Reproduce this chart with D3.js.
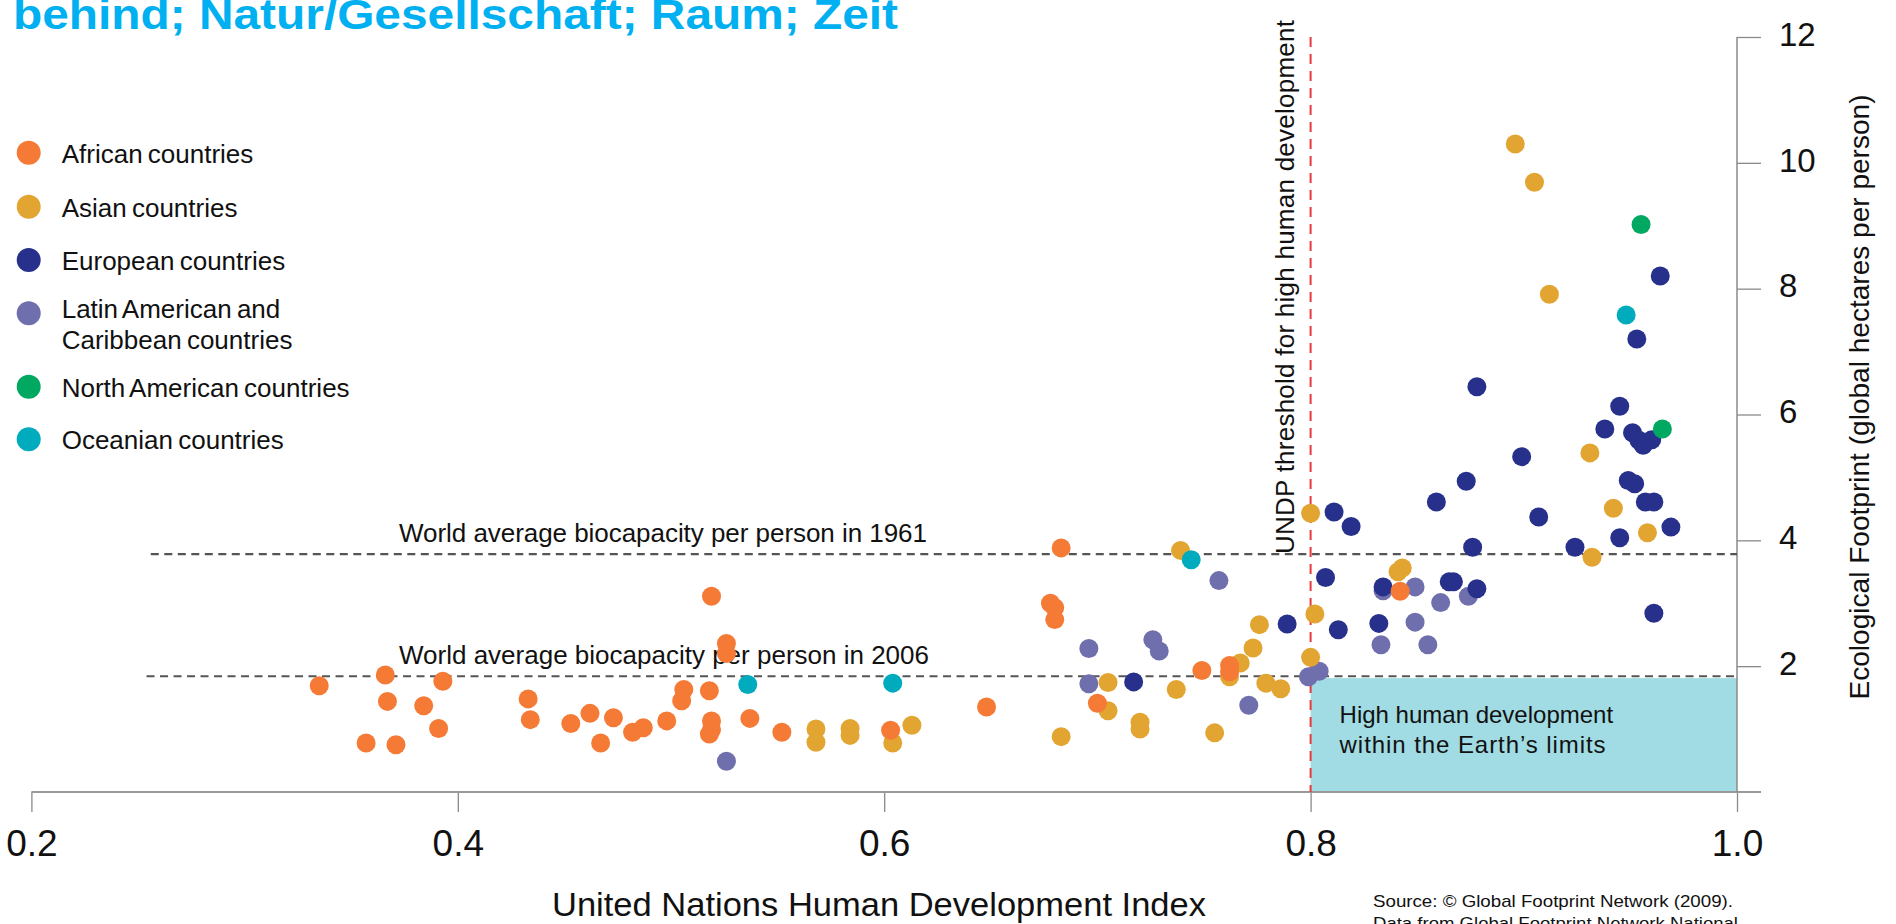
<!DOCTYPE html>
<html><head><meta charset="utf-8">
<script src="https://cdn.jsdelivr.net/npm/d3@7"></script>
<style>
html,body{margin:0;padding:0;background:#fff;overflow:hidden}
svg{display:block;font-family:"Liberation Sans",Arial,Helvetica,sans-serif}
</style>
</head><body>
<svg id="chart" width="1896" height="924"></svg>
<script>
// ---------------- data ----------------
const xTicks = [0.2, 0.4, 0.6, 0.8, 1.0];
const yTicks = [2, 4, 6, 8, 10, 12];

const regionNames = ["African countries", "Asian countries", "European countries",
  "Latin American and|Caribbean countries", "North American countries", "Oceanian countries"];
const regionColors = ["#f47a35", "#e3a532", "#27318b", "#6f6fad", "#00a862", "#00abbe"];

// [HDI, Ecological Footprint]
const african = [[0.335,1.69],[0.366,1.86],[0.367,1.44],[0.357,0.78],[0.371,0.75],[0.384,1.37],
  [0.393,1.76],[0.391,1.01],[0.433,1.48],[0.434,1.15],[0.453,1.09],[0.462,1.25],[0.467,0.78],
  [0.473,1.18],[0.482,0.95],[0.487,1.02],[0.498,1.13],[0.505,1.45],[0.506,1.63],[0.518,1.61],
  [0.519,3.11],[0.526,2.36],[0.526,2.20],[0.519,1.13],[0.519,0.99],[0.518,0.92],[0.537,1.17],
  [0.552,0.95],[0.603,0.98],[0.648,1.35],[0.683,3.88],[0.678,3.00],[0.680,2.93],[0.680,2.74],
  [0.700,1.41],[0.749,1.93],[0.762,2.01],[0.762,1.91],[0.842,3.19]];
const asian = [[0.568,1.00],[0.568,0.79],[0.584,1.01],[0.584,0.90],[0.604,0.78],[0.613,1.06],
  [0.683,0.88],[0.705,1.74],[0.705,1.29],[0.720,1.11],[0.720,1.00],[0.739,3.84],[0.737,1.63],
  [0.755,0.94],[0.767,2.05],[0.762,1.83],[0.773,2.29],[0.776,2.66],[0.779,1.73],[0.786,1.64],
  [0.800,2.14],[0.802,2.83],[0.800,4.43],[0.841,3.50],[0.843,3.56],[0.896,10.30],[0.905,9.69],
  [0.912,7.91],[0.931,5.39],[0.942,4.51],[0.958,4.12],[0.932,3.73]];
const european = [[0.717,1.75],[0.789,2.67],[0.807,3.41],[0.811,4.45],[0.819,4.22],[0.813,2.58],
  [0.834,3.26],[0.832,2.68],[0.865,3.34],[0.867,3.34],[0.878,3.23],[0.859,4.61],[0.873,4.94],
  [0.876,3.89],[0.878,6.44],[0.899,5.33],[0.907,4.37],[0.924,3.89],[0.945,4.04],[0.969,4.21],
  [0.949,4.95],[0.952,4.90],[0.957,4.61],[0.961,4.61],[0.961,2.84],[0.964,8.20],[0.953,7.20],
  [0.945,6.13],[0.938,5.77],[0.951,5.71],[0.954,5.59],[0.960,5.60],[0.956,5.51]];
const latinAmerican = [[0.526,0.49],[0.696,2.28],[0.696,1.72],[0.726,2.42],[0.729,2.24],[0.757,3.36],
  [0.771,1.38],[0.799,1.83],[0.804,1.92],[0.834,3.20],[0.849,3.26],[0.874,3.11],[0.861,3.01],
  [0.849,2.70],[0.833,2.34],[0.855,2.34]];
const northAmerican = [[0.955,9.02],[0.965,5.77]];
const oceanian = [[0.536,1.71],[0.604,1.73],[0.744,3.69],[0.948,7.58]];

// reference lines
const biocap1961 = 3.78, biocap2006 = 1.84, earthLimitTop = 1.81;
const biocapLineStart1961 = 0.256, biocapLineStart2006 = 0.254;
const hdiThreshold = 0.8;

// ---------------- chart ----------------
const svg = d3.select("#chart");
const x = d3.scaleLinear().domain([0.2, 1.0]).range([31.4, 1737]);
const y = d3.scaleLinear().domain([0, 12]).range([792, 37]);
const FONT = "\"Liberation Sans\",Arial,sans-serif";

// title (cut off at top)
svg.append("text").attr("x", 13).attr("y", 29)
  .attr("font-size", 43).attr("font-weight", "bold").attr("fill", "#00b0f0")
  .attr("textLength", 885).attr("lengthAdjust", "spacingAndGlyphs")
  .text("behind; Natur/Gesellschaft; Raum; Zeit");

// high development within limits box
svg.append("rect")
  .attr("x", x(hdiThreshold)).attr("y", y(earthLimitTop))
  .attr("width", x(1.0) - x(hdiThreshold)).attr("height", y(0) - y(earthLimitTop))
  .attr("fill", "#a1dbe3");
svg.append("text").attr("x", x(hdiThreshold) + 29).attr("y", 723)
  .attr("font-size", 24).attr("fill", "#111").text("High human development");
svg.append("text").attr("x", x(hdiThreshold) + 29).attr("y", 753)
  .attr("font-size", 24).attr("fill", "#111")
  .attr("textLength", 266).attr("lengthAdjust", "spacing")
  .text("within the Earth’s limits");

// axes
const gx = svg.append("g").attr("transform", `translate(0,${y(0)})`)
  .call(d3.axisBottom(x).tickValues(xTicks).tickSize(20).tickFormat(d3.format(".1f")));
gx.select(".domain").remove();
gx.selectAll(".tick line").attr("stroke", "#8a8a8a").attr("stroke-width", 1.3);
gx.selectAll(".tick text").attr("y", 64).attr("dy", 0).attr("font-size", 37)
  .attr("fill", "#111").attr("font-family", FONT);
svg.append("line").attr("x1", x(0.2)).attr("x2", x(1.0) + 24).attr("y1", y(0)).attr("y2", y(0))
  .attr("stroke", "#999").attr("stroke-width", 2);

const gy = svg.append("g").attr("transform", `translate(${x(1.0)},0)`)
  .call(d3.axisRight(y).tickValues(yTicks).tickSize(24).tickPadding(18));
gy.select(".domain").remove();
gy.selectAll(".tick line").attr("stroke", "#8a8a8a").attr("stroke-width", 1.3);
gy.selectAll(".tick text").attr("font-size", 33).attr("dy", "0.25em")
  .attr("fill", "#111").attr("font-family", FONT);
svg.append("line").attr("x1", x(1.0)).attr("x2", x(1.0)).attr("y1", y(12)).attr("y2", y(0))
  .attr("stroke", "#8a8a8a").attr("stroke-width", 1.5);

// axis titles
svg.append("text").attr("x", 552).attr("y", 916).attr("font-size", 34).attr("fill", "#111")
  .attr("textLength", 654).attr("lengthAdjust", "spacingAndGlyphs")
  .text("United Nations Human Development Index");
svg.append("text").attr("transform", "translate(1869,397) rotate(-90)")
  .attr("text-anchor", "middle").attr("font-size", 28).attr("fill", "#111")
  .attr("textLength", 605).attr("lengthAdjust", "spacing")
  .text("Ecological Footprint (global hectares per person)");

// source
svg.append("text").attr("x", 1373).attr("y", 907).attr("font-size", 17).attr("fill", "#111")
  .attr("textLength", 360).attr("lengthAdjust", "spacingAndGlyphs")
  .text("Source: © Global Footprint Network (2009).");
svg.append("text").attr("x", 1373).attr("y", 929).attr("font-size", 17).attr("fill", "#111")
  .attr("textLength", 365).attr("lengthAdjust", "spacingAndGlyphs")
  .text("Data from Global Footprint Network National");

// biocapacity lines
svg.append("line").attr("x1", x(biocapLineStart1961)).attr("x2", x(1.0))
  .attr("y1", y(biocap1961)).attr("y2", y(biocap1961))
  .attr("stroke", "#555").attr("stroke-width", 2.2).attr("stroke-dasharray", "8,5.5");
svg.append("line").attr("x1", x(biocapLineStart2006)).attr("x2", x(1.0))
  .attr("y1", y(biocap2006)).attr("y2", y(biocap2006))
  .attr("stroke", "#555").attr("stroke-width", 2.2).attr("stroke-dasharray", "8,5.5");
svg.append("text").attr("x", 399).attr("y", y(biocap1961) - 12.6).attr("font-size", 26)
  .attr("fill", "#111").attr("textLength", 528).attr("lengthAdjust", "spacing")
  .text("World average biocapacity per person in 1961");
svg.append("text").attr("x", 399).attr("y", y(biocap2006) - 12.7).attr("font-size", 26)
  .attr("fill", "#111").attr("textLength", 530).attr("lengthAdjust", "spacing")
  .text("World average biocapacity per person in 2006");

// UNDP threshold
svg.append("line").attr("x1", x(hdiThreshold)).attr("x2", x(hdiThreshold))
  .attr("y1", y(12)).attr("y2", y(0))
  .attr("stroke", "#e8393f").attr("stroke-width", 2).attr("stroke-dasharray", "10,7");
svg.append("text").attr("transform", "translate(1294,554) rotate(-90)")
  .attr("font-size", 26).attr("fill", "#111")
  .attr("textLength", 534).attr("lengthAdjust", "spacing")
  .text("UNDP threshold for high human development");

// points (draw order: Latin, European, Asian, African, Oceanian, North American)
const seriesOrder = [[latinAmerican, 3], [european, 2], [asian, 1], [african, 0], [oceanian, 5], [northAmerican, 4]];
seriesOrder.forEach(([data, ci]) => {
  svg.append("g").selectAll("circle").data(data).join("circle")
    .attr("cx", d => x(d[0])).attr("cy", d => y(d[1])).attr("r", 9.5)
    .attr("fill", regionColors[ci]);
});

// legend
const legendY = [152.7, 206.7, 260, 313.3, 386.7, 439.3];
const lg = svg.append("g");
regionNames.forEach((name, i) => {
  lg.append("circle").attr("cx", 28.7).attr("cy", legendY[i]).attr("r", 12).attr("fill", regionColors[i]);
  const lines = name.split("|");
  const base = lines.length > 1 ? 5 : 10;
  lines.forEach((line, j) => {
    lg.append("text").attr("x", 61.7).attr("y", legendY[i] + base + j * 31)
      .attr("font-size", 26).attr("fill", "#111").attr("word-spacing", "-2").text(line);
  });
});
</script>
</body></html>
